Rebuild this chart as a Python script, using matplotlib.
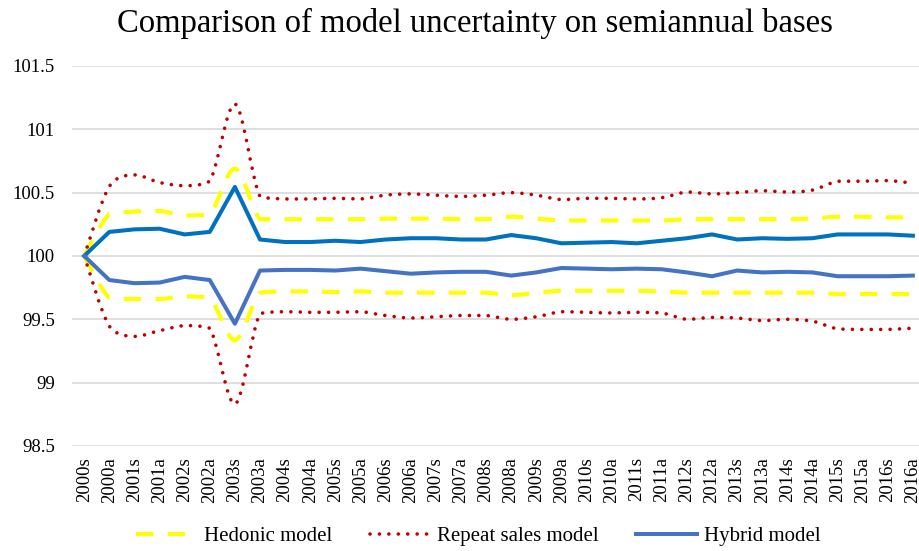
import matplotlib.pyplot as plt
import numpy as np
from matplotlib.lines import Line2D
from matplotlib.patches import PathPatch
from matplotlib.path import Path

periods = ["2000s", "2000a", "2001s", "2001a", "2002s", "2002a", "2003s", "2003a",
           "2004s", "2004a", "2005s", "2005a", "2006s", "2006a", "2007s", "2007a",
           "2008s", "2008a", "2009s", "2009a", "2010s", "2010a", "2011s", "2011a",
           "2012s", "2012a", "2013s", "2013a", "2014s", "2014a", "2015s", "2015a",
           "2016s", "2016a"]

hedonic_upper = [100.0, 100.33, 100.35, 100.355, 100.32, 100.33, 100.69, 100.29,
                 100.29, 100.29, 100.29, 100.29, 100.295, 100.295, 100.295, 100.29,
                 100.29, 100.31, 100.295, 100.28, 100.28, 100.28, 100.28, 100.28,
                 100.29, 100.29, 100.29, 100.29, 100.29, 100.295, 100.31, 100.31,
                 100.305, 100.305]
hedonic_lower = [100.0, 99.67, 99.66, 99.66, 99.68, 99.67, 99.335, 99.71,
                 99.72, 99.72, 99.715, 99.72, 99.71, 99.71, 99.71, 99.71,
                 99.71, 99.69, 99.71, 99.725, 99.725, 99.725, 99.725, 99.72,
                 99.71, 99.71, 99.71, 99.71, 99.71, 99.71, 99.70, 99.70,
                 99.70, 99.70]
repeat_upper = [100.0, 100.55, 100.64, 100.58, 100.555, 100.59, 101.2, 100.47,
                100.45, 100.45, 100.455, 100.45, 100.48, 100.49, 100.48, 100.47,
                100.48, 100.50, 100.48, 100.445, 100.455, 100.455, 100.45, 100.46,
                100.505, 100.49, 100.50, 100.515, 100.505, 100.52, 100.59, 100.59,
                100.595, 100.575]
repeat_lower = [100.0, 99.445, 99.365, 99.41, 99.45, 99.43, 98.83, 99.545,
                99.56, 99.555, 99.555, 99.56, 99.53, 99.51, 99.52, 99.53,
                99.53, 99.50, 99.52, 99.56, 99.555, 99.55, 99.555, 99.55,
                99.50, 99.515, 99.51, 99.49, 99.50, 99.485, 99.425, 99.42,
                99.42, 99.43]
hybrid_upper = [100.0, 100.19, 100.21, 100.215, 100.17, 100.19, 100.545, 100.13,
                100.11, 100.11, 100.12, 100.11, 100.13, 100.14, 100.14, 100.13,
                100.13, 100.165, 100.14, 100.10, 100.105, 100.11, 100.10, 100.12,
                100.14, 100.17, 100.13, 100.14, 100.135, 100.14, 100.17, 100.17,
                100.17, 100.16]
hybrid_lower = [100.0, 99.81, 99.785, 99.79, 99.835, 99.81, 99.465, 99.885,
                99.89, 99.89, 99.885, 99.90, 99.88, 99.86, 99.87, 99.875,
                99.875, 99.845, 99.87, 99.905, 99.90, 99.895, 99.90, 99.895,
                99.87, 99.84, 99.885, 99.87, 99.875, 99.87, 99.84, 99.84,
                99.84, 99.845]


def smooth_path(xs, ys):
    # cubic Bezier through every point; control points kept inside each
    # segment's y range so the curve does not overshoot
    pts = np.column_stack([xs, ys]).astype(float)
    verts = [pts[0]]
    codes = [Path.MOVETO]
    n = len(pts)
    for i in range(n - 1):
        p0 = pts[max(i - 1, 0)]
        p1 = pts[i]
        p2 = pts[i + 1]
        p3 = pts[min(i + 2, n - 1)]
        c1 = p1 + (p2 - p0) / 6
        c2 = p2 - (p3 - p1) / 6
        lo, hi = min(p1[1], p2[1]), max(p1[1], p2[1])
        c1[1] = np.clip(c1[1], lo, hi)
        c2[1] = np.clip(c2[1], lo, hi)
        verts += [c1, c2, p2]
        codes += [Path.CURVE4] * 3
    return Path(verts, codes)


plt.rcParams["font.family"] = ["Liberation Serif", "DejaVu Serif"]

fig = plt.figure(figsize=(9.2, 5.51), dpi=100)
ax = fig.add_axes([0.0779, 0.1906, 0.928, 0.6897])

x = np.arange(len(periods))

yellow = "#FFFF00"
red = "#C00000"
blue_dark = "#0070C0"
blue = "#4472C4"

dash_yellow = (0, (4.2, 3.4))
dot_red = (0, (0.01, 2.6))

for series in (hedonic_upper, hedonic_lower):
    ax.add_patch(PathPatch(smooth_path(x, series), fill=False, edgecolor=yellow,
                           lw=3.0, linestyle=dash_yellow, capstyle="butt", zorder=3))
for series in (repeat_upper, repeat_lower):
    ax.add_patch(PathPatch(smooth_path(x, series), fill=False, edgecolor=red,
                           lw=2.6, linestyle=dot_red, capstyle="round", zorder=3))

ax.plot(x, hybrid_upper, color=blue_dark, lw=2.9, zorder=4)
ax.plot(x, hybrid_lower, color=blue, lw=2.9, zorder=4)

ax.set_xlim(-0.5, len(periods) - 0.5)
ax.set_ylim(98.5, 101.5)
ax.set_yticks([98.5, 99, 99.5, 100, 100.5, 101, 101.5])
ax.set_yticklabels(["98.5", "99", "99.5", "100", "100.5", "101", "101.5"])
ax.set_xticks(x)
ax.set_xticklabels(periods, rotation=90)
ax.tick_params(axis="both", length=0, labelsize=13.5)
ax.tick_params(axis="x", pad=8)
ax.tick_params(axis="y", pad=12)
ax.grid(axis="y", color="#D9D9D9", lw=1.2)
ax.set_axisbelow(True)
for s in ax.spines.values():
    s.set_visible(False)

fig.text(0.516, 0.958, "Comparison of model uncertainty on semiannual bases",
         ha="center", va="center", fontsize=23.5)

handles = [
    Line2D([], [], color=yellow, lw=3.0, linestyle=dash_yellow),
    Line2D([], [], color=red, lw=2.6, linestyle=dot_red, dash_capstyle="round"),
    Line2D([], [], color=blue, lw=2.9),
]
fig.legend(handles, ["Hedonic model", "Repeat sales model", "Hybrid model"],
           loc="center", bbox_to_anchor=(0.52, 0.027), ncol=3, frameon=False,
           fontsize=15, handlelength=2.9, columnspacing=1.8, handletextpad=0.35)

fig.savefig("out.png", dpi=100)
